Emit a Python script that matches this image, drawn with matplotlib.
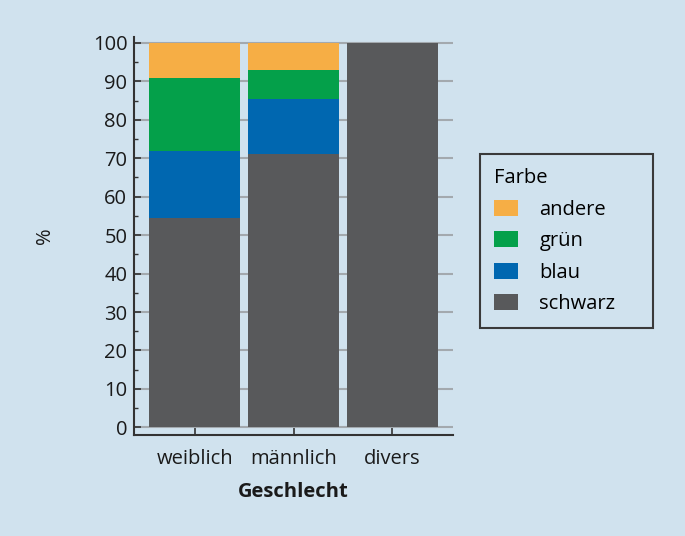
import numpy as np
import matplotlib.pyplot as plt
from matplotlib.patches import Patch
from matplotlib.ticker import MultipleLocator

# Daten
geschlecht = ['weiblich', 'männlich', 'divers']
schwarz = [54.5, 71.1, 100.0]
blau = [17.5, 14.4, 0.0]
gruen = [18.9, 7.5, 0.0]
andere = [9.1, 7.0, 0.0]

farben = {'schwarz': '#58595b', 'blau': '#0067b0', 'grün': '#04a04a', 'andere': '#f6ae45'}
bg = '#d0e2ee'
fs = 14.5

plt.rcParams['font.family'] = ['Open Sans', 'DejaVu Sans']

fig = plt.figure(figsize=(6.85, 5.36), dpi=100, facecolor=bg)
ax = fig.add_axes([0.196, 0.189, 0.465, 0.7425])
ax.set_facecolor(bg)

x = np.arange(len(geschlecht))
unten = np.zeros(len(geschlecht))
for name, werte in [('schwarz', schwarz), ('blau', blau), ('grün', gruen), ('andere', andere)]:
    ax.bar(x, werte, width=0.92, bottom=unten, color=farben[name], zorder=2)
    unten += np.array(werte)

ax.set_xlim(-0.61, 2.61)
ax.set_ylim(-1.9, 101.6)
ax.yaxis.set_major_locator(MultipleLocator(10))
ax.yaxis.set_minor_locator(MultipleLocator(5))
ax.grid(axis='y', which='major', color='#a3a9ae', lw=1.5, zorder=0)
ax.set_xticks(x)
ax.set_xticklabels(geschlecht)

for s in ['top', 'right']:
    ax.spines[s].set_visible(False)
for s in ['left', 'bottom']:
    ax.spines[s].set_color('#333333')
    ax.spines[s].set_linewidth(1.5)

ax.tick_params(axis='y', which='major', direction='in', length=5, width=1.2, color='#333333',
               labelsize=fs, pad=5, labelcolor='#1a1a1a')
ax.tick_params(axis='y', which='minor', direction='in', length=3, width=1, color='#333333')
ax.tick_params(axis='x', direction='in', length=5, width=1.2, color='#333333',
               labelsize=fs, pad=10, labelcolor='#1a1a1a')

ax.set_xlabel('Geschlecht', fontsize=fs, fontweight='bold', labelpad=10, color='#1a1a1a')
ax.set_ylabel('%', fontsize=fs, labelpad=27, color='#1a1a1a')

handles = [Patch(facecolor=farben[n], edgecolor='none') for n in ['andere', 'grün', 'blau', 'schwarz']]
leg = fig.legend(handles, ['andere', 'grün', 'blau', 'schwarz'], title='Farbe',
                 loc='upper left', bbox_to_anchor=(0.7007, 0.7127, 0.2526, 0.0), mode='expand',
                 fontsize=fs, title_fontsize=fs, frameon=True, fancybox=False, framealpha=1,
                 facecolor=bg, edgecolor='#3a3a3a', handlelength=1.2, handleheight=0.85,
                 handletextpad=1.05, labelspacing=0.57, borderpad=0.7, borderaxespad=0)
leg._legend_box.align = 'left'
leg.get_frame().set_linewidth(1.5)

fig.savefig('out.png', dpi=100, facecolor=bg)
